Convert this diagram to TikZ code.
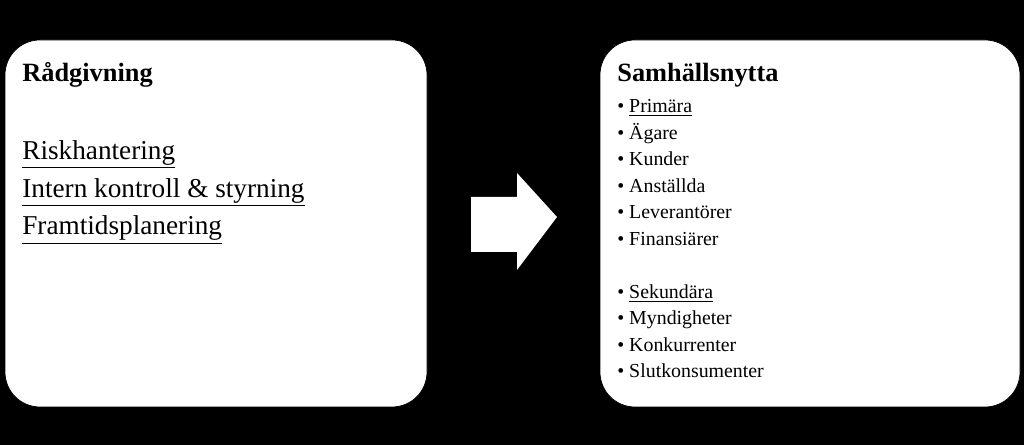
\documentclass[tikz,border=0pt]{standalone}
\usepackage{fontspec}
\setmainfont{Liberation Serif}
\usetikzlibrary{positioning}
\tikzstyle{panel} = [draw=black, fill=white, rounded corners=0.7cm]
\tikzstyle{title} = [anchor=base west, inner sep=0pt, font=\fontsize{15}{18}\selectfont\bfseries]
\tikzstyle{list} = [anchor=north west, inner sep=0pt, align=left]
\begin{document}
\begin{tikzpicture}
	\fill[black] (0,0) rectangle (20.48,8.9);
	\useasboundingbox (0,0) rectangle (20.48,8.9);
	\draw[panel] (0.1,0.76) rectangle (8.54,8.1);
	\draw[panel] (12.0,0.76) rectangle (20.4,8.1);
	\fill[white] (9.42,4.96) -- (10.34,4.96) -- (10.34,5.44) -- (11.14,4.56) -- (10.34,3.5) -- (10.34,3.86) -- (9.42,3.86) -- cycle;

	\node[title](left){} ; 
	\node[title] (radtitle) at (0.44,7.26) {Rådgivning};
	\node[list, font=\fontsize{15.5}{21.5}\selectfont] (raditems) at (0.44,6.1)
		{\underline{Riskhantering}\\ \underline{Intern kontroll \& styrning}\\ \underline{Framtidsplanering}};
	\node[title] (samtitle) at (12.34,7.26) {Samhällsnytta};
	\node[list, font=\fontsize{11.3}{15.1}\selectfont] (samitems) at (12.34,6.92)
		{• \underline{Primära}\\ • Ägare\\ • Kunder\\ • Anställda\\ • Leverantörer\\ • Finansiärer\\[15.1pt]
		 • \underline{Sekundära}\\ • Myndigheter\\ • Konkurrenter\\ • Slutkonsumenter};
\end{tikzpicture}
\end{document}
